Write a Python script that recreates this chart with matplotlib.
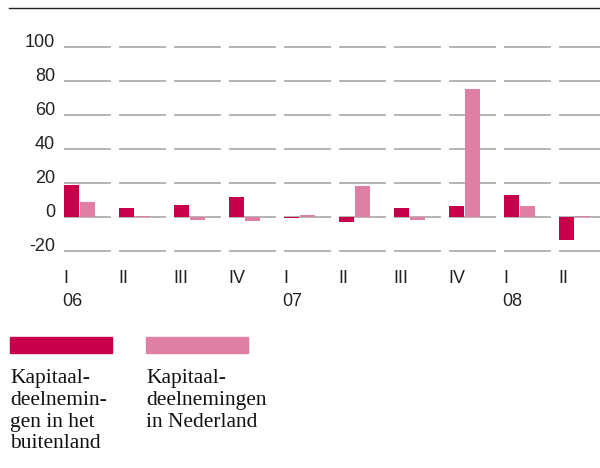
import numpy as np
import matplotlib.pyplot as plt
import matplotlib.transforms as mtransforms
from matplotlib.patches import Rectangle

# kwartalen 2006-2008
quarters = ['I', 'II', 'III', 'IV', 'I', 'II', 'III', 'IV', 'I', 'II']
years = {0: '06', 4: '07', 8: '08'}
buitenland = [19, 5.5, 7, 11.5, -0.8, -3, 5.5, 6.5, 13, -13.5]
nederland = [9, 0.5, -1.5, -2.5, 1.3, 18, -1.5, 75.5, 6.5, 0.8]
yticks = [-20, 0, 20, 40, 60, 80, 100]
labels = ['Kapitaal-\ndeelnemin-\ngen in het\nbuitenland', 'Kapitaal-\ndeelnemingen\nin Nederland']

red = '#c8004b'
pink = '#e07fa5'
grid = '#b4b4b4'
W, H = 600, 468

fig = plt.figure(figsize=(W/100, H/100), dpi=100)
# axes: x=0 at px 64, zero line at px 217, 1.7 px per unit
ax = fig.add_axes([64/W, 1-260/H, (W-64)/W, 230/H])
ax.set_xlim(0, (W-64)/55)
ax.set_ylim(-(260-217)/1.7, (217-30)/1.7)
ax.axis('off')

n = len(quarters)
x = np.arange(n)
seg = 47/55
bw = 15/55
for y in yticks:
    ax.hlines([y]*n, x, x+seg, color=grid, lw=1.4, zorder=1)
    ax.text(-9/55, y, str(y), ha='right', va='baseline', fontsize=13,
            family='Liberation Sans', color='#222222', clip_on=False)

ax.bar(x, buitenland, width=bw, align='edge', color=red, zorder=2)
ax.bar(x+bw+1/55, nederland, width=bw, align='edge', color=pink, zorder=2)

tr = mtransforms.blended_transform_factory(ax.transData, fig.transFigure)
for i, q in enumerate(quarters):
    fig.text(i-1/55, 1-270/H, q, transform=tr, ha='left', va='top', fontsize=13,
             family='Liberation Sans', color='#222222')
for i, yr in years.items():
    fig.text(i-1.5/55, 1-293/H, yr, transform=tr, ha='left', va='top', fontsize=13,
             family='Liberation Sans', color='#222222')

# lijn bovenaan
fig.add_artist(plt.Line2D([9/W, 1], [1-8/H, 1-8/H], color='#222222', lw=1))

# legenda
for x0, c, lab in [(10, red, labels[0]), (146, pink, labels[1])]:
    fig.add_artist(Rectangle((x0/W, 1-353/H), 102/W, 16/H, color=c, transform=fig.transFigure))
    fig.text(x0/W, 1-369/H, lab, ha='left', va='top', fontsize=15.5,
             family='Liberation Serif', color='#111111', linespacing=1.2)

fig.savefig('out.png', dpi=100)
